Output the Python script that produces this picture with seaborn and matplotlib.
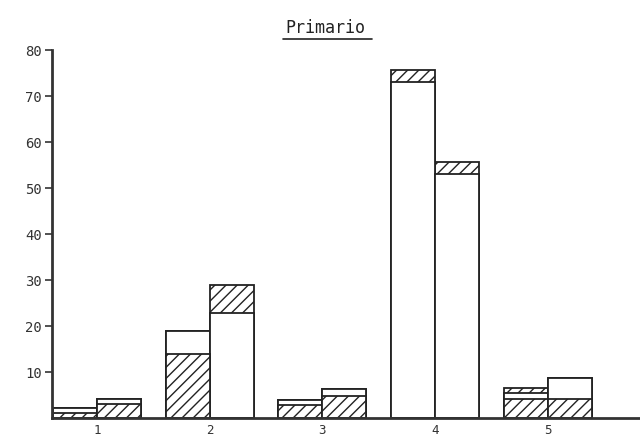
import numpy as np
import matplotlib
matplotlib.use("Agg")
import matplotlib.pyplot as plt
from matplotlib.lines import Line2D
import pandas as pd
import seaborn as sns

# Data: 5 groups, two bars each,
# every bar = hatched bottom + white middle + hatched top
groups = ["1", "2", "3", "4", "5"]
bars = ["A", "B"]
hatched_low_a = [1.1, 14.0, 2.8, 0.0, 4.2]
hatched_low_b = [3.0, 0.0, 4.8, 0.0, 4.2]
white_a = [1.0, 5.0, 1.2, 73.0, 1.3]
white_b = [1.2, 22.8, 1.6, 53.0, 4.6]
hatched_top_a = [0.0, 0.0, 0.0, 2.7, 1.0]
hatched_top_b = [0.0, 6.2, 0.0, 2.6, 0.0]
yticks = [10, 20, 30, 40, 50, 60, 70, 80]

# build long table with cumulative heights
rows = []
for i, g in enumerate(groups):
    for b, low, mid, top in [("A", hatched_low_a[i], white_a[i], hatched_top_a[i]),
                             ("B", hatched_low_b[i], white_b[i], hatched_top_b[i])]:
        rows.append({"group": g, "bar": b,
                     "low": low, "mid": low + mid, "total": low + mid + top})
df = pd.DataFrame(rows)

sns.set_style("ticks")
plt.rcParams["font.family"] = ["DejaVu Sans Mono", "DejaVu Sans"]
plt.rcParams["hatch.linewidth"] = 1.0
plt.rcParams["hatch.color"] = "#222222"

fig = plt.figure(figsize=(6.4, 4.4), dpi=100)
ax = fig.add_axes([0.081, 0.05, 0.919, 0.836])

common = dict(data=df, x="group", hue="bar", hue_order=bars, order=groups,
              palette=["white", "white"], dodge=True, width=0.78, gap=0,
              errorbar=None, edgecolor="#222222", linewidth=1.3,
              legend=False, ax=ax)

# draw from tallest layer down so lower layers overlay
sns.barplot(y="total", hatch="///", **common)
sns.barplot(y="mid", **common)
sns.barplot(y="low", hatch="///", **common)

ax.set_xlim(-0.4, 4.82)
ax.set_ylim(0, 80)
ax.set_yticks(yticks)
ax.set_xlabel("")
ax.set_ylabel("")

sns.despine(ax=ax)
ax.spines["left"].set_linewidth(2)
ax.spines["bottom"].set_linewidth(2)
ax.spines["left"].set_color("#333333")
ax.spines["bottom"].set_color("#333333")
ax.tick_params(axis="y", length=5, width=1.2, colors="#333333", labelsize=10, pad=2)
ax.tick_params(axis="x", length=0, colors="#333333", labelsize=9, pad=4)

# underlined title
fig.text(0.509, 0.936, "Primario", ha="center", va="center", fontsize=12, color="#222222")
fig.add_artist(Line2D([0.442, 0.581], [0.912, 0.912], color="#222222", linewidth=1.2))

fig.savefig("out.png", dpi=100)
